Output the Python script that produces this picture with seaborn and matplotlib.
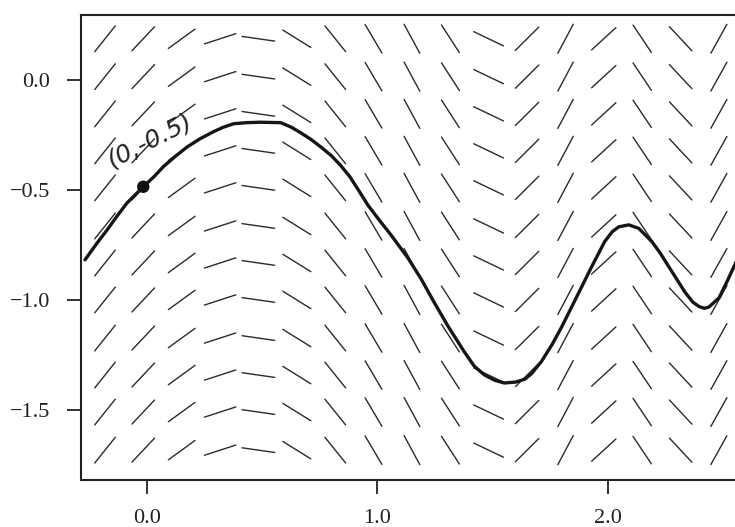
import numpy as np
import pandas as pd
import matplotlib
matplotlib.use("Agg")
import matplotlib.pyplot as plt
import seaborn as sns

# slope field grid
colX = [-0.183, -0.017, 0.150, 0.317, 0.483, 0.650, 0.817, 0.983, 1.150,
        1.317, 1.483, 1.650, 1.817, 1.983, 2.150, 2.317, 2.483]
colSlope = [1.31, 1.11, 0.76, 0.34, -0.15, -0.65, -1.30, -1.77, -1.93,
            -1.62, -0.50, 1.04, 1.97, 0.96, -1.56, -1.12, 1.88]
rowY = [0.186, 0.014, -0.155, -0.323, -0.491, -0.664, -0.832, -1.000,
        -1.173, -1.341, -1.509, -1.682]

# hand-drawn solution curve
curveX = [-0.27, -0.22, -0.174, -0.13, -0.087, -0.017, 0.03, 0.07, 0.12,
          0.174, 0.23, 0.288, 0.33, 0.375, 0.43, 0.492, 0.58, 0.625, 0.667,
          0.71, 0.754, 0.80, 0.841, 0.88, 0.92, 0.959, 1.01, 1.059, 1.133,
          1.19, 1.246, 1.307, 1.377, 1.42, 1.464, 1.51, 1.551, 1.60, 1.64,
          1.669, 1.712, 1.76, 1.80, 1.874, 1.93, 1.987, 2.02, 2.048, 2.092,
          2.135, 2.192, 2.23, 2.266, 2.336, 2.37, 2.397, 2.42, 2.44, 2.484,
          2.519, 2.562]
curveY = [-0.818, -0.745, -0.682, -0.618, -0.559, -0.486, -0.44, -0.395,
          -0.35, -0.305, -0.268, -0.236, -0.216, -0.2, -0.195, -0.193, -0.195,
          -0.215, -0.241, -0.27, -0.305, -0.345, -0.39, -0.44, -0.505, -0.57,
          -0.64, -0.705, -0.81, -0.905, -1.01, -1.12, -1.235, -1.30, -1.34,
          -1.365, -1.377, -1.373, -1.36, -1.335, -1.28, -1.20, -1.123, -0.968,
          -0.85, -0.735, -0.69, -0.668, -0.659, -0.675, -0.735, -0.79, -0.85,
          -0.965, -1.01, -1.03, -1.038, -1.032, -0.99, -0.915, -0.818]
startPoint = (-0.017, -0.486)
startLabel = "(0,-0.5)"

xTicks = [0.0, 1.0, 2.0]
yTicks = [0.0, -0.5, -1.0, -1.5]

sns.set_style("white")
plt.rcParams["font.family"] = ["Liberation Serif", "DejaVu Serif"]

figW, figH = 7.35, 5.27
fig = plt.figure(figsize=(figW, figH), dpi=100)
axPos = [0.110, 0.089, 0.890, 0.883]
ax = fig.add_axes(axPos)
xlim = (-0.288, 2.553)
ylim = (-1.818, 0.295)

# pixels per data unit, to keep every dash the same length on screen
sx = axPos[2] * figW * 100 / (xlim[1] - xlim[0])
sy = axPos[3] * figH * 100 / (ylim[1] - ylim[0])
segLen = 33.0

rows = []
segId = 0
for cx, m in zip(colX, colSlope):
    ang = np.arctan2(m * sy, sx)
    dx = 0.5 * segLen * np.cos(ang) / sx
    dy = 0.5 * segLen * np.sin(ang) / sy
    for cy in rowY:
        rows.append((segId, cx - dx, cy - dy))
        rows.append((segId, cx + dx, cy + dy))
        segId += 1
segDf = pd.DataFrame(rows, columns=["seg", "x", "y"])

sns.lineplot(data=segDf, x="x", y="y", units="seg", estimator=None, sort=False,
             color="#2b2b2b", linewidth=1.0, ax=ax, legend=False)

curveDf = pd.DataFrame({"x": curveX, "y": curveY})
sns.lineplot(data=curveDf, x="x", y="y", sort=False, estimator=None,
             color="#161616", linewidth=2.4, ax=ax)
sns.scatterplot(x=[startPoint[0]], y=[startPoint[1]], color="#111111",
                s=80, edgecolor="none", zorder=5, ax=ax)
ax.text(0.01, -0.275, startLabel, rotation=27, ha="center", va="center",
        fontsize=18, color="#222222", family=["DejaVu Sans"], style="italic")

ax.set_xlim(*xlim)
ax.set_ylim(*ylim)
ax.set_xticks(xTicks)
ax.set_yticks(yTicks)
ax.set_xticklabels([f"{v:.1f}" for v in xTicks])
ax.set_yticklabels([f"{v:.1f}".replace("-", "\u2212") for v in yTicks])
ax.set_xlabel("")
ax.set_ylabel("")
ax.tick_params(axis="both", direction="out", length=10, width=1.3,
               labelsize=16, color="#222222", labelcolor="#222222",
               left=True, bottom=True)
ax.tick_params(axis="x", pad=11)
ax.tick_params(axis="y", pad=12)
for side in ["left", "top", "bottom"]:
    ax.spines[side].set_visible(True)
    ax.spines[side].set_color("#222222")
    ax.spines[side].set_linewidth(1.5)
ax.spines["right"].set_visible(False)

fig.savefig("out.png", dpi=100)
